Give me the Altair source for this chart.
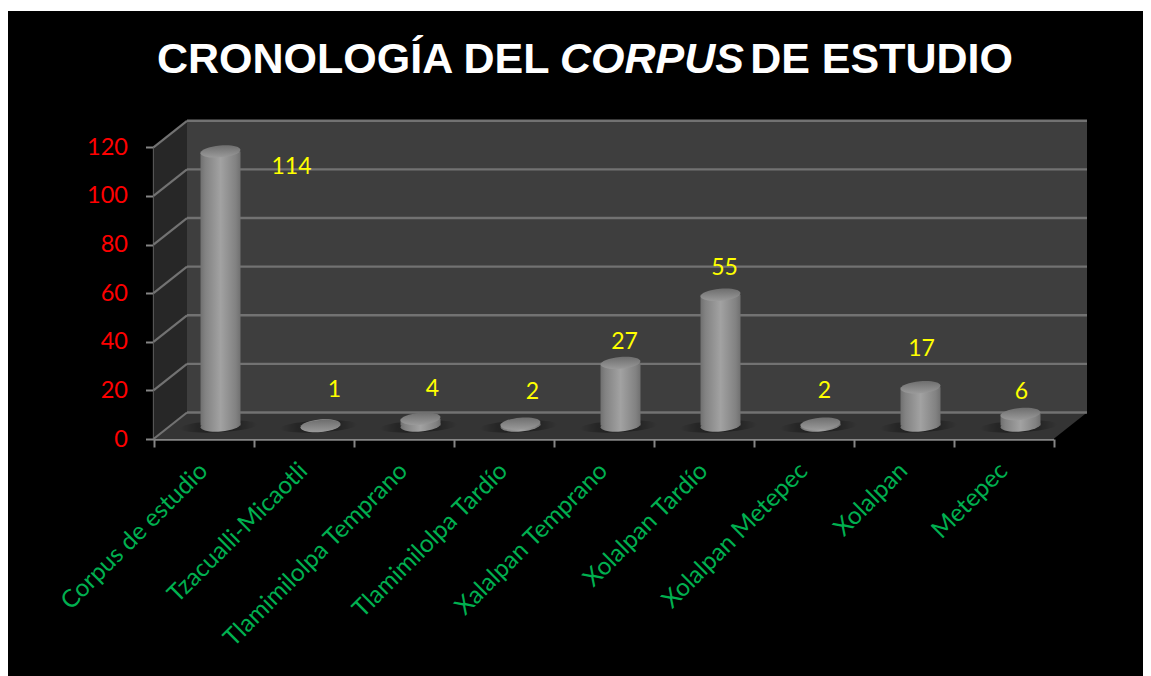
import math
import altair as alt
import pandas as pd

categories = ["Corpus de estudio", "Tzacualli-Micaotli", "Tlamimilolpa Temprano", "Tlamimilolpa Tardío",
              "Xalalpan Temprano", "Xolalpan Tardío", "Xolalpan Metepec", "Xolalpan", "Metepec"]
values = [114, 1, 4, 2, 27, 55, 2, 17, 6]
y_ticks = [0, 20, 40, 60, 80, 100, 120]
# label nudges away from the bars (the original labels were hand placed)
nudge_dx = [88, 31, 29, 29, 21, 21, 21, 18, 18]
nudge_dy = [5, -47, -40, -42, -31, -37, -43, -49, -32]

df = pd.DataFrame({"cat": categories, "v": values})
ticks = pd.DataFrame({"t": y_ticks})
one = pd.DataFrame({"a": [0]})

FONT = "Lato"
X0, X1 = 145.5, 1045.5
Y0, Y1 = 428.0, 136.3
DX, DY = 33.5, -26.5

x_scale = alt.Scale(domain=categories, range=[X0, X1], paddingInner=0, paddingOuter=0)
y_scale = alt.Scale(domain=[0, 120], range=[Y0, Y1], nice=False, zero=False)
xe = alt.X("cat:N", sort=None, scale=x_scale, axis=None)
ye = alt.Y("v:Q", scale=y_scale, axis=None)
yt = alt.Y("t:Q", scale=y_scale, axis=None)


def poly(pts):
    return "M" + " L".join(f"{a} {b}" for a, b in pts) + " Z"


def ellipse(b=0.3, tilt=-5):
    k = 0.5523
    t = math.radians(tilt)
    c, s = math.cos(t), math.sin(t)

    def r(px, py):
        return f"{px * c - py * s:.4f} {px * s + py * c:.4f}"

    return (f"M{r(-1, 0)} C{r(-1, -k * b)} {r(-k, -b)} {r(0, -b)} C{r(k, -b)} {r(1, -k * b)} {r(1, 0)} "
            f"C{r(1, k * b)} {r(k, b)} {r(0, b)} C{r(-k, b)} {r(-1, k * b)} {r(-1, 0)} Z")


def wall(pts, color):
    return alt.Chart(one).mark_point(shape=poly(pts), size=4, filled=True, fill=color, opacity=1, strokeWidth=0).encode(
        x=alt.value(0), y=alt.value(0))


layers = [
    wall([(X0 + DX, Y1 + DY), (X1 + DX, Y1 + DY), (X1 + DX, Y0 + DY), (X0 + DX, Y0 + DY)], "#3e3e3e"),
    wall([(X0, Y1), (X0 + DX, Y1 + DY), (X0 + DX, Y0 + DY), (X0, Y0)], "#272727"),
    wall([(X0, Y0), (X0 + DX, Y0 + DY), (X1 + DX, Y0 + DY), (X1, Y0)], "#343434"),
]

GRID = "#727272"
layers.append(alt.Chart(ticks).mark_rule(color=GRID, strokeWidth=2.4, yOffset=DY, y2Offset=DY).encode(
    x=alt.value(X0 + DX), x2=alt.value(X1 + DX), y=yt, y2=alt.Y2("t:Q")))
layers.append(alt.Chart(ticks).mark_rule(color=GRID, strokeWidth=2.2, y2Offset=DY).encode(
    x=alt.value(X0), x2=alt.value(X0 + DX), y=yt, y2=alt.Y2("t:Q")))

# shadows on the floor
shadow = {"gradient": "radial", "stops": [
    {"offset": 0, "color": "rgba(0,0,0,0.45)"}, {"offset": 0.55, "color": "rgba(0,0,0,0.28)"},
    {"offset": 1, "color": "rgba(0,0,0,0)"}]}
body = {"gradient": "linear", "x1": 0, "x2": 1, "y1": 0, "y2": 0, "stops": [
    {"offset": 0, "color": "#707070"}, {"offset": 0.12, "color": "#828282"},
    {"offset": 0.5, "color": "#a2a2a2"}, {"offset": 0.88, "color": "#828282"},
    {"offset": 1, "color": "#707070"}]}
top = {"gradient": "linear", "x1": 0, "x2": 0, "y1": 0, "y2": 1, "stops": [
    {"offset": 0, "color": "#6e6e6e"}, {"offset": 1, "color": "#9a9a9a"}]}

CX, CY_TOP, CY_BASE = 17, -10.5, -13.5
base = alt.Chart(df)
layers.append(base.mark_point(shape=ellipse(0.15, -3), size=6000, filled=True, fill=shadow, opacity=1, strokeWidth=0,
                              xOffset=CX - 2, yOffset=CY_BASE + 1).encode(x=xe, y=alt.value(Y0)))
layers.append(base.mark_point(shape=ellipse(), size=1600, filled=True, fill=body, opacity=1, strokeWidth=0,
                              xOffset=CX, yOffset=CY_BASE).encode(x=xe, y=alt.value(Y0)))
layers.append(base.mark_bar(size=40, fill=body, xOffset=CX, yOffset=CY_TOP, y2Offset=CY_BASE).encode(
    x=xe, y=ye, y2=alt.Y2(datum=0)))
layers.append(base.mark_point(shape=ellipse(), size=1600, filled=True, fill=top, opacity=1, strokeWidth=0,
                              xOffset=CX, yOffset=CY_TOP).encode(x=xe, y=ye))

# axes
layers.append(alt.Chart(df).mark_text(opacity=0).encode(
    x=alt.X("cat:N", sort=None, scale=x_scale, axis=alt.Axis(
        title=None, orient="bottom", offset=Y0 - 665, labelAngle=-45, labelAlign="right", labelBaseline="middle",
        tickBand="extent", tickSize=8, tickColor="#858585", tickWidth=2, domainColor="#858585", domainWidth=2.4,
        labelColor="#00B050", labelFont=FONT, labelFontSize=24.5, labelPadding=20, labelLimit=0, labelOverlap=False,
        grid=False)),
    y=alt.Y("v:Q", scale=y_scale, axis=alt.Axis(
        title=None, orient="left", offset=-X0, values=y_ticks, tickSize=8, tickColor="#858585", tickWidth=2,
        domainColor="#858585", domainWidth=2.2, labelColor="#FF0000", labelFont=FONT, labelFontSize=23.5,
        labelPadding=18, grid=False)),
    text=alt.value("")))

# value labels
for cat, dx, dy in zip(categories, nudge_dx, nudge_dy):
    layers.append(base.transform_filter(alt.datum.cat == cat).mark_text(
        color="#FFFF00", font=FONT, fontSize=23, dx=dx, dy=dy, baseline="middle", align="center"
    ).encode(x=xe, y=ye, text="v:Q"))

# title, with the one italic word
title_y = 48.5
for txt, x, align, style in [("CRONOLOGÍA DEL", 149, "left", "normal"), ("CORPUS", 552, "left", "italic"),
                             ("DE ESTUDIO", 1005, "right", "normal")]:
    layers.append(alt.Chart(one).mark_text(
        text=txt, color="white", font="Liberation Sans", fontSize=43, fontWeight="bold", fontStyle=style,
        align=align, baseline="middle").encode(x=alt.value(x), y=alt.value(title_y)))

chart = alt.layer(*layers).resolve_axis(x="independent", y="independent").properties(
    width=1135, height=665, background="white", autosize=alt.AutoSizeParams(type="none"),
    padding={"left": 0, "top": 3, "right": 0, "bottom": 0}
).configure_view(fill="black", stroke=None)

chart.save("out.html", embed_options={"renderer": "svg", "actions": False})
